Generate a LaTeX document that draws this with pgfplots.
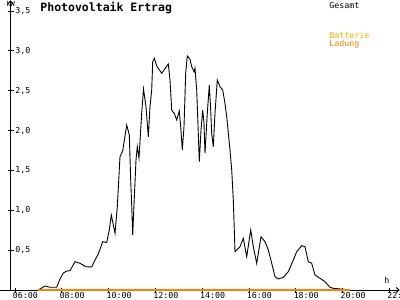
\documentclass[border=0pt]{standalone}
\usepackage{fontspec}
\setmainfont{DejaVu Sans Mono}
\usepackage{pgfplots}
\pgfplotsset{compat=1.18}
\usetikzlibrary{arrows.meta}
\definecolor{ladung}{HTML}{FF8000}
\definecolor{batt}{HTML}{FFB000}
\begin{document}
\begin{tikzpicture}
\begin{scope}[x=1bp,y=1bp,line width=0.9bp]
% axes
\draw[-{Straight Barb[length=2.5bp,width=5bp]}] (0,10) -- (399.5,10);
\draw[-{Straight Barb[length=2.5bp,width=5bp]}] (10.5,10) -- (10.5,299.6);
% y ticks
\foreach \v/\l in {0.5/{0,5},1.0/{1,0},1.5/{1,5},2.0/{2,0},2.5/{2,5},3.0/{3,0},3.5/{3,5}}{
  \draw (7.5,{10+79.7*\v}) -- (13.5,{10+79.7*\v});
  \node[anchor=west,inner sep=0pt,font=\fontsize{8.3bp}{10bp}\selectfont] at (15,{10+79.7*\v}) {\l};
}
% x ticks
\foreach \k/\l in {0/06:00,1/08:00,2/10:00,3/12:00,4/14:00,5/16:00,6/18:00,7/20:00,8/22:}{
  \draw ({15+46.8*\k},7.5) -- ({15+46.8*\k},12.5);
  \node[anchor=base west,inner sep=0pt,font=\fontsize{8.3bp}{10bp}\selectfont] at ({12.5+46.8*\k},1.2) {\l};
}
\node[anchor=base west,inner sep=0pt,font=\fontsize{7bp}{8bp}\selectfont] at (6,293.5) {kW};
\node[anchor=base west,inner sep=0pt,font=\fontsize{8.3bp}{10bp}\selectfont] at (384,16.5) {h};
\node[anchor=base west,inner sep=0pt,font=\fontsize{11.5bp}{13bp}\selectfont\bfseries] at (40,289) {Photovoltaik Ertrag};
\node[anchor=base west,inner sep=0pt,font=\fontsize{8.3bp}{10bp}\selectfont] at (329,292) {Gesamt};
\node[anchor=base west,inner sep=0pt,text=batt,font=\fontsize{8.3bp}{10bp}\selectfont] at (329,261.5) {Batterie};
\node[anchor=base west,inner sep=0pt,text=ladung,font=\fontsize{8.3bp}{10bp}\selectfont] at (329,253.5) {Ladung};
\end{scope}
\begin{axis}[hide axis, scale only axis, width=400bp, height=300bp,
  xmin=5.359, xmax=22.453, ymin=-0.1255, ymax=3.6386, clip=true]
\addplot[black, line width=0.9bp] coordinates {
(6.996,0) (7.282,0.050) (7.496,0.034) (7.782,0.034) (7.923,0.138) (8.064,0.213)
(8.209,0.238) (8.350,0.242) (8.564,0.355) (8.778,0.335) (9.034,0.292) (9.278,0.289)
(9.419,0.376) (9.560,0.452) (9.748,0.606) (9.919,0.596) (10.030,0.753) (10.115,0.941)
(10.274,0.711) (10.372,1.045) (10.487,1.672) (10.603,1.748) (10.774,2.070) (10.885,1.945)
(10.944,1.380) (10.987,1.066) (11.030,0.690) (11.085,1.066) (11.171,1.631) (11.226,1.798)
(11.299,1.656) (11.415,2.217) (11.491,2.522) (11.598,2.300) (11.697,1.923) (11.769,2.300)
(11.842,2.509) (11.885,2.864) (11.953,2.907) (12.056,2.811) (12.269,2.719) (12.551,2.836)
(12.624,2.635) (12.697,2.258) (12.739,2.237) (12.808,2.217) (12.910,2.133) (13.021,2.246)
(13.081,2.049) (13.150,1.757) (13.222,2.049) (13.295,2.719) (13.363,2.936) (13.479,2.895)
(13.551,2.802) (13.650,2.739) (13.692,2.782) (13.765,2.509) (13.833,1.966) (13.876,1.610)
(13.949,2.007) (14.021,2.258) (14.077,2.092) (14.120,1.715) (14.218,2.217) (14.303,2.572)
(14.363,2.258) (14.406,1.966) (14.474,1.798) (14.547,2.217) (14.645,2.635) (14.761,2.551)
(14.876,2.509) (14.974,2.343) (15.047,2.174) (15.188,1.757) (15.261,1.506) (15.329,1.129)
(15.402,0.481) (15.615,0.543) (15.756,0.649) (15.902,0.418) (16.073,0.753) (16.184,0.543)
(16.329,0.335) (16.513,0.669) (16.684,0.606) (16.825,0.502) (16.970,0.335) (17.111,0.167)
(17.252,0.138) (17.466,0.159) (17.679,0.230) (17.893,0.376) (18.038,0.481) (18.252,0.556)
(18.393,0.543) (18.534,0.355) (18.679,0.335) (18.821,0.188) (19.034,0.147) (19.248,0.104)
(19.462,0.034) (19.603,0.021) (20.030,0.009) (20.316,0)
};
\addplot[ladung, line width=1.3bp] coordinates {(6.996,0) (20.316,0)};
\end{axis}
\pgfresetboundingbox
\path[use as bounding box] (0,0) rectangle (400bp,300bp);
\end{tikzpicture}
\end{document}
